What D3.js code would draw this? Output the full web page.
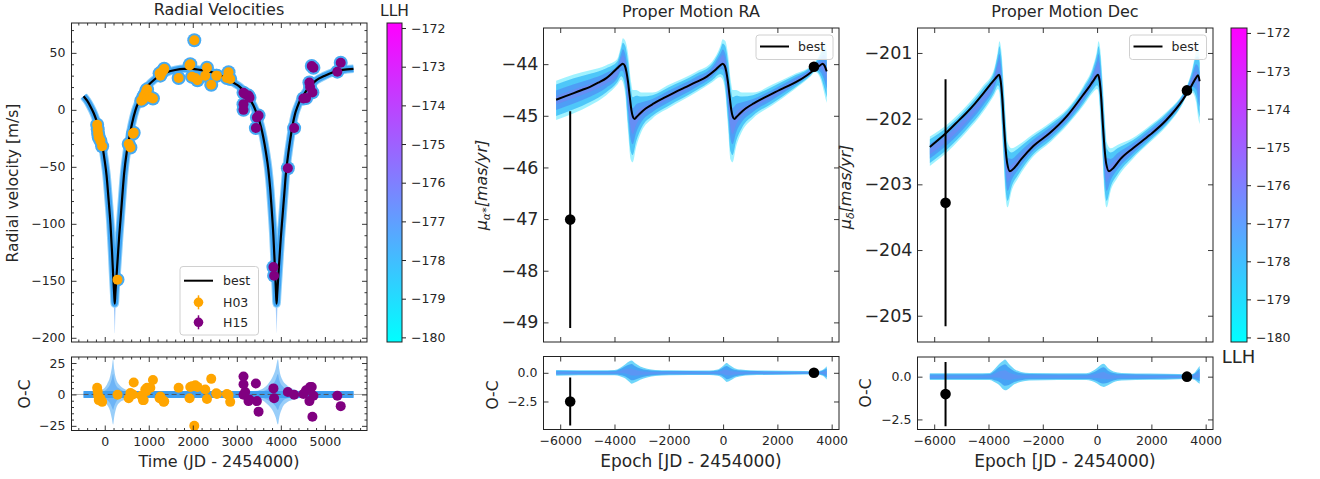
<!DOCTYPE html>
<html><head><meta charset="utf-8">
<script src="https://cdn.jsdelivr.net/npm/d3@7"></script>
<style>body{margin:0;background:#fff}svg{display:block}</style>
</head><body><svg id="c" width="1320" height="479"></svg>
<script>
// ---------------- DATA ----------------
const legendLabels = ["best", "H03", "H15"];
const rvModel = [[-480,12],[-400,8],[-325,3],[-250,-3],[-174,-11],[-120,-18],[-60,-30],[0,-45],[40,-57],[90,-80],[130,-100],[166,-125],[195,-148],[215,-162],[227,-170],[240,-162],[260,-150],[290,-133],[330,-110],[355,-98],[400,-75],[440,-56],[500,-37],[560,-24],[620,-12],[700,0],[780,8],[880,16],[1000,22],[1110,26],[1250,30],[1412,33],[1600,35],[1789,36],[2000,36],[2167,35],[2350,34],[2544,31.5],[2700,29],[2846,26],[2960,23],[3073,20],[3150,17],[3224,13],[3300,9],[3375,4],[3440,-2],[3488,-7],[3550,-15],[3601,-24],[3660,-37],[3715,-52],[3760,-70],[3790,-86],[3830,-110],[3866,-139],[3890,-160],[3903,-170],[3916,-162],[3936,-150],[3964,-133],[4000,-112],[4039,-93],[4080,-73],[4115,-56],[4170,-38],[4206,-28],[4260,-15],[4319,-4],[4380,3],[4432,8],[4500,12],[4583,17],[4700,22],[4809,26],[5000,30],[5187,33],[5400,35],[5650,36]];
const rvDipTails = [
  [[190,-150,-140],[210,-175,-158],[227,-196,-168],[244,-175,-158],[264,-150,-145]],
  [[3866,-150,-140],[3886,-175,-158],[3903,-196,-168],[3920,-175,-158],[3940,-150,-145]]
];
const h03T  = [-172,-160,-150,-136,-100,-59,290,544,583,640,658,830,868,884,921,946,961,1036,1095,1246,1263,1301,1338,1351,1678,1927,1943,1982,2034,2057,2106,2283,2322,2419,2533,2548,2775,2812,2850];
const h03RV = [-13,-17,-21,-24,-27,-32,-149,-30,-33,-21,-20,8,9,12,14,17,18,11,10,32,30,33,35,36,28,39,40,29,61,28,26,30,37,22,30,30,28,33,27];
const h03OC = [5.3,2.5,-1,-4.5,-3,-5.9,-0.3,-3.1,1.1,0,9.5,-1.1,-4.5,-4.5,3.9,2.5,5.3,5.3,11.5,-3.1,-1.7,-4,-5.9,-5.5,5.3,-3.1,5.9,6.5,-25,7.3,6,4,-3.6,12.4,1,0.3,0.3,-0.5,-5.9];
const h03Err = 3;
const h15T  = [3152,3152,3152,3190,3265,3288,3433,3456,3494,3832,3847,4159,4302,4512,4573,4649,4664,4702,4717,4740,5283,5360];
const h15RV = [15,5,0,13.7,12.5,10.7,-16,-6.7,-5,-138,-145.5,-51.3,-16,10,10.3,24,20,38.5,15.3,37,33.5,41.3];
const h15OC = [14.3,8.1,-0.3,2,-5.3,-4,8.7,-5.3,-13.7,4.8,-3.1,1.9,-0.3,0.3,3.4,-5.3,5.9,5.9,-17.7,-1,-1.1,-9.3];
const h15Err = 3;
const rvOCBand = [[-480,-2.8,2.8],[-150,-2.8,2.8],[-50,-4,4],[50,-8,8],[120,-13,14],[160,-19,21],[190,-24,28],[215,-18,20],[260,-11,12],[350,-6,7],[470,-4,4],[600,-2.8,2.8],[3400,-2.8,2.8],[3550,-4,4],[3700,-8,8],[3800,-12,13],[3880,-18,20],[3935,-24,28],[3965,-18,20],[4030,-11,12],[4150,-6,7],[4300,-4,4],[4450,-2.8,2.8],[5650,-2.8,2.8]];

const raModel = [[-6150,-44.69],[-5800,-44.62],[-5500,-44.56],[-5200,-44.50],[-4900,-44.44],[-4600,-44.36],[-4300,-44.27],[-4100,-44.18],[-3900,-44.08],[-3780,-44.02],[-3692,-43.99],[-3620,-44.03],[-3560,-44.15],[-3500,-44.35],[-3440,-44.62],[-3380,-44.88],[-3320,-45.02],[-3260,-45.06],[-3180,-45.02],[-3050,-44.95],[-2850,-44.86],[-2550,-44.76],[-2200,-44.66],[-1830,-44.56],[-1400,-44.45],[-1000,-44.35],[-600,-44.24],[-300,-44.12],[-120,-44.03],[-13,-43.99],[60,-44.03],[120,-44.15],[180,-44.35],[240,-44.62],[300,-44.88],[360,-45.02],[420,-45.06],[500,-45.02],[630,-44.95],[830,-44.86],[1130,-44.76],[1480,-44.66],[1850,-44.56],[2280,-44.45],[2680,-44.35],[3080,-44.22],[3380,-44.10],[3560,-44.03],[3666,-43.99],[3740,-44.03],[3790,-44.10],[3820,-44.14]];
const raBand = [[-6150,-45.08,-44.32],[-5500,-44.95,-44.2],[-4900,-44.8,-44.12],[-4300,-44.6,-44.02],[-3900,-44.4,-43.9],[-3750,-44.3,-43.62],[-3692,-44.35,-43.5],[-3600,-44.6,-43.55],[-3500,-45.3,-43.8],[-3400,-45.85,-44.3],[-3330,-45.9,-44.5],[-3200,-45.6,-44.5],[-3000,-45.3,-44.55],[-2600,-45.05,-44.55],[-2000,-44.85,-44.4],[-1000,-44.55,-44.15],[-400,-44.35,-43.95],[-100,-44.25,-43.65],[-13,-44.3,-43.52],[80,-44.55,-43.55],[180,-45.2,-43.8],[280,-45.85,-44.3],[350,-45.9,-44.5],[480,-45.6,-44.5],[700,-45.3,-44.55],[1100,-45.05,-44.55],[1800,-44.8,-44.4],[2600,-44.5,-44.2],[3200,-44.25,-44.05],[3400,-44.15,-43.95],[3600,-44.3,-43.75],[3700,-44.5,-43.6],[3790,-44.7,-43.6],[3820,-44.75,-43.7]];
const raObsT = [-5632, 3347];
const raObs = [-47.01, -44.05];
const raErr = [2.1, 0.05];
const raOC = [-2.5, 0.0];
const raOCErr = [2.1, 0.05];
const raOCBand = [[-6150,-0.25,0.25],[-4500,-0.22,0.22],[-4000,-0.22,0.24],[-3800,-0.3,0.42],[-3600,-0.5,0.75],[-3450,-0.8,1.0],[-3370,-0.95,1.07],[-3250,-0.85,0.85],[-3050,-0.6,0.55],[-2800,-0.4,0.35],[-2500,-0.28,0.25],[-2000,-0.22,0.22],[-500,-0.2,0.2],[-200,-0.25,0.28],[-50,-0.4,0.5],[60,-0.65,0.75],[134,-0.8,0.85],[250,-0.7,0.65],[420,-0.45,0.4],[650,-0.3,0.28],[1000,-0.22,0.22],[3000,-0.15,0.15],[3400,-0.12,0.12],[3600,-0.2,0.2],[3750,-0.4,0.4],[3820,-0.58,0.58]];

const decModel = [[-6160,-202.43],[-5900,-202.34],[-5544,-202.21],[-5200,-202.07],[-4808,-201.91],[-4500,-201.77],[-4197,-201.62],[-3950,-201.49],[-3750,-201.39],[-3608,-201.33],[-3550,-201.43],[-3490,-201.70],[-3430,-202.10],[-3370,-202.45],[-3310,-202.68],[-3210,-202.80],[-3050,-202.75],[-2800,-202.62],[-2357,-202.42],[-1742,-202.22],[-1128,-201.97],[-517,-201.64],[-300,-201.52],[-149,-201.43],[35,-201.33],[95,-201.43],[155,-201.70],[215,-202.10],[275,-202.45],[335,-202.68],[440,-202.80],[600,-202.75],[850,-202.62],[1323,-202.45],[1938,-202.25],[2552,-202.02],[3163,-201.71],[3450,-201.52],[3656,-201.37],[3720,-201.34],[3778,-201.43]];
const decBand = [[-6160,-202.72,-202.27],[-5500,-202.5,-202.08],[-4800,-202.2,-201.8],[-4200,-201.9,-201.5],[-3800,-201.65,-201.25],[-3650,-201.55,-200.95],[-3600,-201.6,-200.82],[-3530,-202.0,-200.95],[-3450,-202.6,-201.4],[-3370,-203.2,-201.95],[-3300,-203.35,-202.35],[-3150,-203.1,-202.45],[-2900,-202.9,-202.4],[-2400,-202.6,-202.25],[-1700,-202.35,-202.05],[-1100,-202.1,-201.85],[-500,-201.8,-201.5],[-150,-201.6,-201.2],[0,-201.55,-200.95],[50,-201.6,-200.82],[120,-202.0,-200.95],[200,-202.6,-201.4],[280,-203.2,-201.95],[350,-203.35,-202.35],[500,-203.1,-202.45],[750,-202.9,-202.4],[1300,-202.62,-202.3],[1900,-202.38,-202.12],[2550,-202.12,-201.9],[3150,-201.78,-201.62],[3310,-201.65,-201.5],[3500,-201.6,-201.25],[3650,-201.75,-200.98],[3730,-202.0,-200.95],[3780,-202.08,-201.05]];
const decObsT = [-5582, 3310];
const decObs = [-203.28, -201.57];
const decErr = [1.88, 0.05];
const decOC = [-1.02, 0.0];
const decOCErr = [1.88, 0.05];
const decOCBand = [[-6160,-0.2,0.2],[-4500,-0.2,0.2],[-3950,-0.2,0.22],[-3800,-0.3,0.4],[-3600,-0.5,0.75],[-3450,-0.75,0.95],[-3390,-0.8,1.0],[-3250,-0.7,0.75],[-3050,-0.45,0.45],[-2800,-0.3,0.28],[-2500,-0.22,0.22],[-400,-0.2,0.2],[-200,-0.25,0.3],[0,-0.4,0.5],[130,-0.55,0.68],[245,-0.6,0.75],[400,-0.5,0.5],[600,-0.32,0.3],[900,-0.22,0.22],[3000,-0.15,0.15],[3400,-0.12,0.12],[3600,-0.2,0.25],[3720,-0.35,0.5],[3780,-0.42,0.62]];

const rvXTicks = [0,1000,2000,3000,4000,5000];
const rvYTicks = [-200,-150,-100,-50,0,50];
const rvOCTicks = [-25,0,25];
const pmXTicks = [-6000,-4000,-2000,0,2000,4000];
const raYTicks = [-49,-48,-47,-46,-45,-44];
const raOCTicks = [-2.5,0.0];
const decYTicks = [-205,-204,-203,-202,-201];
const decOCTicks = [-2.5,0.0];
const cbTicks = [-180,-179,-178,-177,-176,-175,-174,-173,-172];
const cbRange = [-180.12,-171.87];

// ---------------- DRAW ----------------
const FONT = '"DejaVu Sans", sans-serif';
const TXT = "#262626";
const svg = d3.select("#c");
const defs = svg.append("defs");

const F = {
  rv:  {x0:71.5, x1:367, y0:23, y1:342},
  rvr: {x0:71.5, x1:367, y0:357, y1:430.5},
  cb1: {x0:387, x1:402, y0:23, y1:342},
  ra:  {x0:543.5, x1:839, y0:28, y1:342},
  rar: {x0:543.5, x1:839, y0:356.5, y1:429.5},
  de:  {x0:917.5, x1:1213, y0:28, y1:342},
  der: {x0:917.5, x1:1213, y0:357, y1:429.5},
  cb2: {x0:1231, x1:1247, y0:28, y1:342}
};
const sc = (f, xd, yd) => ({
  x: d3.scaleLinear().domain(xd).range([f.x0, f.x1]),
  y: d3.scaleLinear().domain(yd).range([f.y1, f.y0])
});
const S = {
  rv:  sc(F.rv,  [-755,5957], [-203.7,76.2]),
  rvr: sc(F.rvr, [-755,5957], [-28.7,29.8]),
  ra:  sc(F.ra,  [-6615,4270], [-49.38,-43.30]),
  rar: sc(F.rar, [-6615,4270], [-4.94,1.42]),
  de:  sc(F.de,  [-6615,4270], [-205.40,-200.62]),
  der: sc(F.der, [-6615,4270], [-3.09,1.15])
};

let clipN = 0;
function layer(f) {
  const id = "clip" + (clipN++);
  defs.append("clipPath").attr("id", id).append("rect")
    .attr("x", f.x0).attr("y", f.y0).attr("width", f.x1 - f.x0).attr("height", f.y1 - f.y0);
  return svg.append("g").attr("clip-path", `url(#${id})`);
}

function axes(f, s, o) {
  const g = svg.append("g");
  const mk = (axis, tr) => {
    const a = g.append("g").attr("transform", tr).call(axis);
    a.select(".domain").remove();
    a.attr("font-family", FONT);
    a.selectAll("text").attr("fill", TXT);
    a.selectAll("line").attr("stroke", "#222").attr("stroke-width", 0.9);
    return a;
  };
  const L = mk(d3.axisLeft(s.y).tickValues(o.yt).tickSize(-5).tickPadding(o.ypad || 6).tickFormat(o.yf), `translate(${f.x0},0)`);
  L.attr("font-size", o.yfs);
  mk(d3.axisRight(s.y).tickValues(o.yt).tickSize(-5).tickFormat(""), `translate(${f.x1},0)`);
  const B = mk(d3.axisBottom(s.x).tickValues(o.xt).tickSize(-5).tickPadding(7).tickFormat(o.xlab ? d3.format("") : ""), `translate(0,${f.y1})`);
  B.attr("font-size", o.xfs || 12.5);
  mk(d3.axisTop(s.x).tickValues(o.xt).tickSize(-5).tickFormat(""), `translate(0,${f.y0})`);
  if (o.xm) {
    mk(d3.axisBottom(s.x).tickValues(o.xm).tickSize(-2.5).tickFormat(""), `translate(0,${f.y1})`);
    mk(d3.axisTop(s.x).tickValues(o.xm).tickSize(-2.5).tickFormat(""), `translate(0,${f.y0})`);
  }
  if (o.ym) {
    mk(d3.axisLeft(s.y).tickValues(o.ym).tickSize(-2.5).tickFormat(""), `translate(${f.x0},0)`);
    mk(d3.axisRight(s.y).tickValues(o.ym).tickSize(-2.5).tickFormat(""), `translate(${f.x1},0)`);
  }
  g.append("rect").attr("x", f.x0).attr("y", f.y0).attr("width", f.x1 - f.x0).attr("height", f.y1 - f.y0)
    .attr("fill", "none").attr("stroke", "#222").attr("stroke-width", 1);
}

function text(x, y, str, size, opts = {}) {
  const t = svg.append("text").attr("x", x).attr("y", y).text(str)
    .attr("font-family", FONT).attr("font-size", size).attr("fill", TXT)
    .attr("text-anchor", opts.anchor || "middle");
  if (opts.rot) t.attr("transform", `rotate(${opts.rot},${x},${y})`);
  return t;
}

const area = (s) => d3.area().x(d => s.x(d[0])).y0(d => s.y(d[1])).y1(d => s.y(d[2])).curve(d3.curveMonotoneX);
const line = (s) => d3.line().x(d => s.x(d[0])).y(d => s.y(d[1])).curve(d3.curveMonotoneX);
const shrink = (arr, k) => arr.map(d => { const c = (d[1] + d[2]) / 2; return [d[0], c + (d[1] - c) * k, c + (d[2] - c) * k]; });

// gradients
const cool = defs.append("linearGradient").attr("id", "cool").attr("x1", 0).attr("y1", 1).attr("x2", 0).attr("y2", 0);
cool.append("stop").attr("offset", 0).attr("stop-color", "#00ffff");
cool.append("stop").attr("offset", 1).attr("stop-color", "#ff00ff");
const tail = defs.append("linearGradient").attr("id", "tail").attr("x1", 0).attr("y1", 0).attr("x2", 0).attr("y2", 1);
tail.append("stop").attr("offset", 0).attr("stop-color", "#3f8ff2");
tail.append("stop").attr("offset", 1).attr("stop-color", "#cfe6ff");

// ===== RV main =====
{
  const s = S.rv, g = layer(F.rv);
  rvDipTails.forEach(tl => g.append("path").datum(tl).attr("d", area(s)).attr("fill", "url(#tail)"));
  g.append("path").datum(rvModel).attr("d", line(s)).attr("fill", "none").attr("stroke", "#8fd0fa").attr("stroke-width", 8.5);
  g.append("path").datum(rvModel).attr("d", line(s)).attr("fill", "none").attr("stroke", "#3fa4f3").attr("stroke-width", 6.5);
  const sets = [[h03T, h03RV, h03Err, "#FFA500"], [h15T, h15RV, h15Err, "#800080"]];
  sets.forEach(([T, V]) => T.forEach((t, i) => g.append("circle").attr("cx", s.x(t)).attr("cy", s.y(V[i])).attr("r", 7).attr("fill", "#46aaf3")));
  g.append("path").datum(rvModel).attr("d", line(s)).attr("fill", "none").attr("stroke", "#000").attr("stroke-width", 2.2);
  sets.forEach(([T, V, E, c]) => T.forEach((t, i) => {
    g.append("line").attr("x1", s.x(t)).attr("x2", s.x(t)).attr("y1", s.y(V[i] - E)).attr("y2", s.y(V[i] + E)).attr("stroke", c).attr("stroke-width", 1.5);
    g.append("circle").attr("cx", s.x(t)).attr("cy", s.y(V[i])).attr("r", 5).attr("fill", c);
  }));
  axes(F.rv, s, { yt: rvYTicks, yf: d3.format(""), yfs: 12.5, xt: rvXTicks, xlab: false,
    xm: d3.range(-600, 5801, 200).filter(v => v % 1000 !== 0), ym: d3.range(-200, 71, 10).filter(v => v % 50 !== 0) });
  // legend
  const lg = svg.append("g");
  lg.append("rect").attr("x", 180).attr("y", 266.5).attr("width", 78.5).attr("height", 68.5).attr("rx", 3)
    .attr("fill", "#fff").attr("fill-opacity", 0.85).attr("stroke", "#d0d0d0");
  lg.append("line").attr("x1", 184).attr("x2", 213).attr("y1", 280.7).attr("y2", 280.7).attr("stroke", "#000").attr("stroke-width", 2);
  const cols = ["#FFA500", "#800080"];
  [302.3, 322.3].forEach((y, i) => {
    lg.append("line").attr("x1", 198.5).attr("x2", 198.5).attr("y1", y - 7).attr("y2", y + 7).attr("stroke", cols[i]).attr("stroke-width", 1.5);
    lg.append("circle").attr("cx", 198.5).attr("cy", y).attr("r", 4.8).attr("fill", cols[i]);
  });
  [280.7, 302.3, 322.3].forEach((y, i) => text(223, y + 4.5, legendLabels[i], 12.5, { anchor: "start" }));
}
// ===== RV residuals =====
{
  const s = S.rvr, g = layer(F.rvr);
  g.append("line").attr("x1", F.rvr.x0).attr("x2", F.rvr.x1).attr("y1", s.y(0)).attr("y2", s.y(0)).attr("stroke", "#b0b0b0").attr("stroke-width", 1);
  g.append("path").datum(rvOCBand).attr("d", area(s)).attr("fill", "#8ec9f8").attr("fill-opacity", 0.9);
  g.append("path").datum(shrink(rvOCBand, 0.55)).attr("d", area(s)).attr("fill", "#5aaaf5").attr("fill-opacity", 0.7);
  g.append("path").datum(rvOCBand.map(d => [d[0], Math.max(d[1], -2.8), Math.min(d[2], 2.8)])).attr("d", area(s)).attr("fill", "#3e9ff2");
  g.append("line").attr("x1", s.x(rvModel[0][0])).attr("x2", s.x(rvModel[rvModel.length - 1][0])).attr("y1", s.y(0)).attr("y2", s.y(0))
    .attr("stroke", "#555").attr("stroke-width", 1).attr("stroke-dasharray", "5,3");
  const sets = [[h03T, h03OC, h03Err, "#FFA500"], [h15T, h15OC, h15Err, "#800080"]];
  sets.forEach(([T, V, E, c]) => T.forEach((t, i) => {
    g.append("line").attr("x1", s.x(t)).attr("x2", s.x(t)).attr("y1", s.y(V[i] - E)).attr("y2", s.y(V[i] + E)).attr("stroke", c).attr("stroke-width", 1.5);
    g.append("circle").attr("cx", s.x(t)).attr("cy", s.y(V[i])).attr("r", 5).attr("fill", c);
  }));
  axes(F.rvr, s, { yt: rvOCTicks, yf: d3.format(""), yfs: 12.5, xt: rvXTicks, xlab: true, xfs: 12.5,
    xm: d3.range(-600, 5801, 200).filter(v => v % 1000 !== 0), ym: d3.range(-25, 26, 5).filter(v => v % 25 !== 0) });
}
// ===== PM panels =====
function pmPanel(fm, fr, sm, sr, model, bandArr, obsT, obs, err, oc, ocErr, ocBand, yt, ocT, legX) {
  let g = layer(fm);
  g.append("path").datum(bandArr).attr("d", area(sm)).attr("fill", "#8ff0ff").attr("fill-opacity", 0.85);
  g.append("path").datum(shrink(bandArr, 0.8)).attr("d", area(sm)).attr("fill", "#3fc0f8").attr("fill-opacity", 0.85);
  g.append("path").datum(shrink(bandArr, 0.5)).attr("d", area(sm)).attr("fill", "#4f97f6").attr("fill-opacity", 0.85);
  g.append("path").datum(shrink(bandArr, 0.22)).attr("d", area(sm)).attr("fill", "#7d7ef2").attr("fill-opacity", 0.5);
  g.append("path").datum(model).attr("d", line(sm)).attr("fill", "none").attr("stroke", "#000").attr("stroke-width", 2);
  obsT.forEach((t, i) => {
    g.append("line").attr("x1", sm.x(t)).attr("x2", sm.x(t)).attr("y1", sm.y(obs[i] - err[i])).attr("y2", sm.y(obs[i] + err[i])).attr("stroke", "#000").attr("stroke-width", 2);
    g.append("circle").attr("cx", sm.x(t)).attr("cy", sm.y(obs[i])).attr("r", 5.3).attr("fill", "#000");
  });
  axes(fm, sm, { yt: yt, yf: d3.format(""), yfs: 17.5, ypad: 5, xt: pmXTicks, xlab: false });
  // legend
  const lg = svg.append("g");
  lg.append("rect").attr("x", legX).attr("y", 35).attr("width", 77).attr("height", 24.5).attr("rx", 3)
    .attr("fill", "#fff").attr("fill-opacity", 0.85).attr("stroke", "#d0d0d0");
  lg.append("line").attr("x1", legX + 4).attr("x2", legX + 33).attr("y1", 46.5).attr("y2", 46.5).attr("stroke", "#000").attr("stroke-width", 2);
  text(legX + 42, 51, legendLabels[0], 12.5, { anchor: "start" });

  g = layer(fr);
  g.append("path").datum(ocBand).attr("d", area(sr)).attr("fill", "#5fd2fa").attr("fill-opacity", 0.9);
  g.append("path").datum(shrink(ocBand, 0.7)).attr("d", area(sr)).attr("fill", "#45a4f5");
  g.append("path").datum(shrink(ocBand, 0.3)).attr("d", area(sr)).attr("fill", "#6a8ef4").attr("fill-opacity", 0.6);
  obsT.forEach((t, i) => {
    g.append("line").attr("x1", sr.x(t)).attr("x2", sr.x(t)).attr("y1", sr.y(oc[i] - ocErr[i])).attr("y2", sr.y(oc[i] + ocErr[i])).attr("stroke", "#000").attr("stroke-width", 2);
    g.append("circle").attr("cx", sr.x(t)).attr("cy", sr.y(oc[i])).attr("r", 5.3).attr("fill", "#000");
  });
  axes(fr, sr, { yt: ocT, yf: d3.format(".1f"), yfs: 12.5, xt: pmXTicks, xlab: true, xfs: 12.5 });
}
pmPanel(F.ra, F.rar, S.ra, S.rar, raModel, raBand, raObsT, raObs, raErr, raOC, raOCErr, raOCBand, raYTicks, raOCTicks, 756);
pmPanel(F.de, F.der, S.de, S.der, decModel, decBand, decObsT, decObs, decErr, decOC, decOCErr, decOCBand, decYTicks, decOCTicks, 1129.5);

// ===== colorbars =====
function colorbar(f) {
  svg.append("rect").attr("x", f.x0).attr("y", f.y0).attr("width", f.x1 - f.x0).attr("height", f.y1 - f.y0)
    .attr("fill", "url(#cool)").attr("stroke", "#222").attr("stroke-width", 1);
  const y = d3.scaleLinear().domain(cbRange).range([f.y1, f.y0]);
  const a = svg.append("g").attr("transform", `translate(${f.x1},0)`)
    .call(d3.axisRight(y).tickValues(cbTicks).tickSize(4).tickPadding(5).tickFormat(d3.format("")));
  a.select(".domain").remove();
  a.attr("font-family", FONT).attr("font-size", 12.5);
  a.selectAll("text").attr("fill", TXT);
  a.selectAll("line").attr("stroke", "#222");
}
colorbar(F.cb1);
colorbar(F.cb2);

// ===== texts =====
text(219, 15, "Radial Velocities", 16);
text(691, 17, "Proper Motion RA", 16);
text(1065, 17, "Proper Motion Dec", 16);
text(394.5, 15.5, "LLH", 15.5);
text(1238.5, 362.5, "LLH", 18);
text(18, 183, "Radial velocity [m/s]", 15.5, { rot: -90 });
text(30, 394, "O-C", 15.5, { rot: -90 });
text(497.5, 395, "O-C", 15.5, { rot: -90 });
text(871, 393, "O-C", 15.5, { rot: -90 });
text(219, 467, "Time (JD - 2454000)", 16);
text(691, 467, "Epoch [JD - 2454000)", 17);
text(1065, 467, "Epoch [JD - 2454000)", 17);
function muLabel(x, y, sub) {
  const t = svg.append("text").attr("x", x).attr("y", y).attr("font-family", FONT).attr("font-size", 16)
    .attr("font-style", "italic").attr("fill", TXT).attr("text-anchor", "middle")
    .attr("transform", `rotate(-90,${x},${y})`);
  t.append("tspan").text("μ");
  t.append("tspan").attr("dy", 3).attr("font-size", 11).text(sub);
  t.append("tspan").attr("dy", -3).text("[mas/yr]");
}
muLabel(487, 185, "α*");
muLabel(851, 187, "δ");
</script></body></html>
